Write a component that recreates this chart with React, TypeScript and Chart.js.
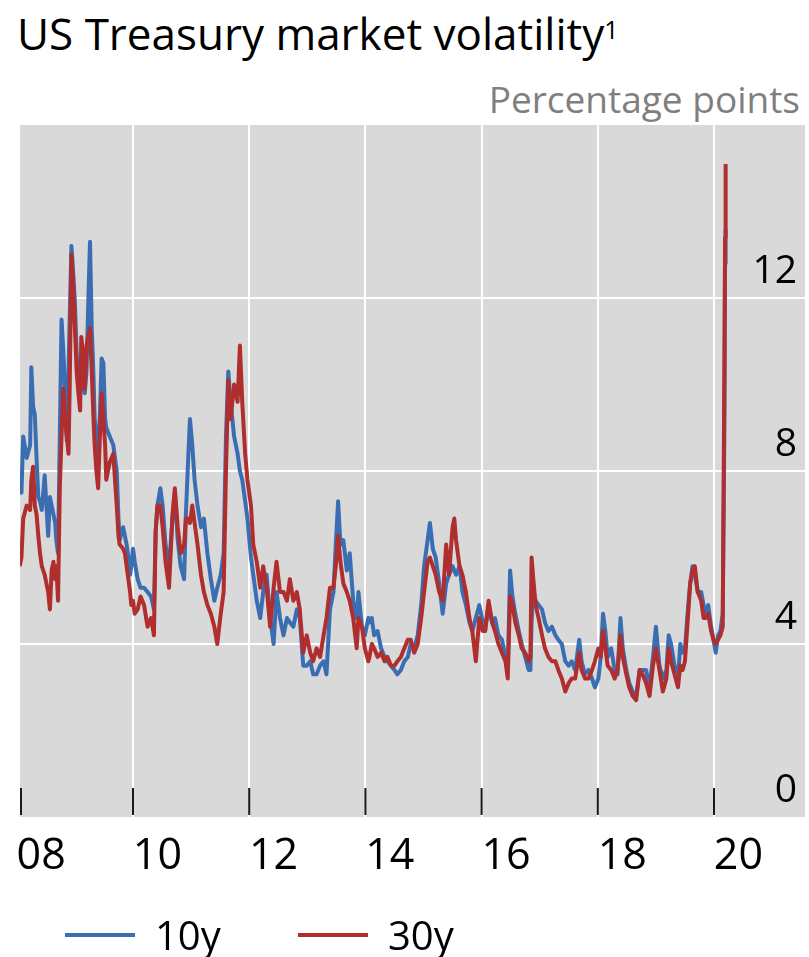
import React, { useEffect, useRef } from 'react';
import { Chart, registerables } from 'chart.js';

Chart.register(...registerables);

// ---- data (decimal years) ----
const dates = [
  2008.05, 2008.08, 2008.11, 2008.17, 2008.23, 2008.25, 2008.28, 2008.31, 2008.34, 2008.37,
  2008.40, 2008.43, 2008.48, 2008.54, 2008.57, 2008.60, 2008.63, 2008.66, 2008.68, 2008.71,
  2008.74, 2008.77, 2008.80, 2008.83, 2008.86, 2008.89, 2008.91, 2008.94, 2008.97, 2009.00,
  2009.03, 2009.06, 2009.09, 2009.11, 2009.14, 2009.17, 2009.20, 2009.23, 2009.26, 2009.29,
  2009.32, 2009.34, 2009.37, 2009.40, 2009.43, 2009.46, 2009.49, 2009.52, 2009.54, 2009.60,
  2009.66, 2009.69, 2009.72, 2009.75, 2009.77, 2009.83, 2009.86, 2009.89, 2009.92, 2009.95,
  2009.97, 2010.00, 2010.03, 2010.08, 2010.13, 2010.19, 2010.25, 2010.31, 2010.36, 2010.39,
  2010.42, 2010.47, 2010.51, 2010.56, 2010.62, 2010.68, 2010.72, 2010.77, 2010.82, 2010.88,
  2010.91, 2010.95, 2010.98, 2011.02, 2011.06, 2011.11, 2011.17, 2011.22, 2011.28, 2011.34,
  2011.40, 2011.45, 2011.51, 2011.56, 2011.60, 2011.64, 2011.68, 2011.74, 2011.80, 2011.84,
  2011.88, 2011.93, 2011.97, 2012.03, 2012.07, 2012.13, 2012.19, 2012.24, 2012.30, 2012.36,
  2012.42, 2012.47, 2012.53, 2012.59, 2012.65, 2012.70, 2012.76, 2012.82, 2012.87, 2012.93,
  2012.99, 2013.05, 2013.10, 2013.16, 2013.22, 2013.28, 2013.33, 2013.39, 2013.45, 2013.49,
  2013.53, 2013.57, 2013.62, 2013.68, 2013.73, 2013.79, 2013.85, 2013.88, 2013.94, 2013.99,
  2014.05, 2014.07, 2014.11, 2014.15, 2014.21, 2014.27, 2014.33, 2014.38, 2014.44, 2014.50,
  2014.55, 2014.61, 2014.67, 2014.73, 2014.78, 2014.84, 2014.90, 2014.96, 2015.01, 2015.07,
  2015.11, 2015.16, 2015.21, 2015.27, 2015.33, 2015.39, 2015.44, 2015.50, 2015.53, 2015.56,
  2015.62, 2015.67, 2015.73, 2015.79, 2015.84, 2015.90, 2015.96, 2016.02, 2016.06, 2016.12,
  2016.18, 2016.23, 2016.29, 2016.35, 2016.41, 2016.45, 2016.49, 2016.53, 2016.58, 2016.64,
  2016.69, 2016.75, 2016.81, 2016.84, 2016.86, 2016.89, 2016.93, 2016.98, 2017.04, 2017.09,
  2017.15, 2017.21, 2017.27, 2017.32, 2017.38, 2017.44, 2017.50, 2017.55, 2017.61, 2017.68,
  2017.72, 2017.78, 2017.84, 2017.90, 2017.95, 2018.01, 2018.05, 2018.09, 2018.13, 2018.17,
  2018.23, 2018.29, 2018.34, 2018.39, 2018.43, 2018.49, 2018.54, 2018.60, 2018.66, 2018.72,
  2018.77, 2018.83, 2018.89, 2018.95, 2019.00, 2019.06, 2019.12, 2019.18, 2019.22, 2019.26,
  2019.32, 2019.38, 2019.42, 2019.46, 2019.50, 2019.55, 2019.59, 2019.63, 2019.67, 2019.72,
  2019.78, 2019.82, 2019.86, 2019.90, 2019.95, 2019.99, 2020.03, 2020.07, 2020.11, 2020.15,
  2020.18, 2020.19, 2020.20,
];

const tenYear = [
  8.0, 7.5, 8.8, 8.3, 8.6, 10.4, 9.5, 9.3, 8.3, 7.4,
  7.3, 7.1, 7.9, 6.5, 7.4, 7.2, 7.0, 6.8, 6.4, 6.1,
  8.8, 11.5, 10.8, 9.9, 8.7, 10.3, 11.5, 13.2, 12.6, 11.9,
  10.7, 10.1, 9.9, 10.7, 9.9, 9.8, 10.3, 11.9, 13.3, 11.3,
  10.2, 9.2, 8.8, 8.4, 9.3, 10.6, 10.5, 9.2, 9.0, 8.8,
  8.6, 8.3, 8.0, 6.9, 6.4, 6.7, 6.5, 6.3, 6.0, 5.6,
  5.8, 6.2, 5.9, 5.5, 5.3, 5.3, 5.2, 5.1, 4.8, 6.6,
  7.2, 7.6, 7.2, 6.3, 5.8, 6.9, 7.5, 6.4, 5.8, 5.5,
  7.0, 8.3, 9.2, 8.6, 7.8, 7.2, 6.7, 6.9, 6.1, 5.5,
  5.0, 5.3, 5.6, 6.1, 8.8, 10.3, 9.6, 8.8, 8.4, 8.0,
  7.8, 7.3, 6.9, 6.0, 5.6, 5.0, 4.6, 5.2, 5.6, 4.6,
  4.0, 5.2, 4.6, 4.2, 4.6, 4.5, 4.4, 4.8, 4.6, 3.5,
  3.5, 3.6, 3.3, 3.3, 3.5, 3.6, 3.3, 4.8, 5.2, 6.3,
  7.3, 6.3, 6.4, 5.7, 6.1, 5.0, 4.6, 5.2, 4.4, 4.2,
  4.6, 4.5, 4.6, 4.2, 4.3, 3.9, 3.7, 3.6, 3.5, 3.4,
  3.3, 3.4, 3.6, 3.7, 4.0, 3.9, 4.2, 4.9, 5.8, 6.4,
  6.8, 6.2, 6.0, 5.4, 4.7, 5.4, 5.6, 5.8, 5.7, 5.6,
  5.8, 5.2, 4.9, 4.5, 4.3, 4.6, 4.9, 4.5, 4.3, 4.9,
  4.5, 4.6, 4.2, 4.1, 3.7, 3.4, 5.7, 5.1, 4.7, 4.3,
  4.0, 3.7, 3.4, 3.4, 4.5, 5.2, 5.0, 4.9, 4.8, 4.5,
  4.3, 4.4, 4.2, 4.1, 4.0, 3.6, 3.5, 3.6, 3.4, 4.1,
  3.6, 3.3, 3.4, 3.2, 3.0, 3.2, 3.7, 4.7, 4.3, 3.7,
  3.9, 3.4, 3.3, 4.6, 3.9, 3.4, 3.1, 2.9, 2.8, 3.4,
  3.4, 3.4, 3.0, 3.7, 4.4, 3.5, 3.2, 3.4, 4.2, 4.0,
  3.5, 3.2, 4.0, 3.8, 3.9, 4.8, 5.4, 5.8, 5.6, 5.2,
  5.2, 4.9, 4.7, 4.9, 4.4, 4.1, 3.8, 4.2, 4.3, 4.7,
  9.2, 12.8, 13.6,
];

const thirtyYear = [
  5.8, 6.0, 6.9, 7.2, 7.1, 7.8, 8.1, 7.2, 7.0, 6.5,
  6.1, 5.8, 5.6, 5.2, 4.8, 5.7, 5.9, 5.5, 5.8, 5.0,
  7.6, 8.8, 9.9, 9.2, 8.8, 8.4, 9.9, 13.0, 12.3, 11.3,
  10.3, 9.8, 9.4, 11.1, 10.7, 9.9, 10.9, 11.1, 11.3, 10.3,
  9.2, 8.6, 8.0, 7.6, 8.8, 9.8, 9.2, 8.6, 7.8, 8.2,
  8.4, 7.8, 7.2, 6.5, 6.3, 6.2, 6.1, 5.8, 5.5, 5.2,
  4.9, 5.0, 4.7, 4.8, 5.1, 4.9, 4.4, 4.6, 4.2, 6.6,
  7.2, 7.2, 6.7, 5.9, 5.3, 7.0, 7.6, 6.7, 6.1, 6.3,
  6.9, 6.9, 6.8, 7.2, 6.8, 6.3, 5.6, 5.2, 4.9, 4.7,
  4.4, 4.0, 4.7, 5.2, 8.0, 10.1, 9.2, 10.0, 9.6, 10.9,
  9.6, 8.4, 7.8, 7.2, 6.3, 5.9, 5.3, 5.8, 5.3, 4.4,
  5.3, 5.9, 5.2, 5.2, 5.0, 5.5, 5.0, 5.2, 4.8, 3.8,
  4.2, 3.8, 3.6, 3.9, 3.7, 4.2, 4.6, 5.3, 5.3, 5.8,
  6.5, 5.9, 5.4, 5.2, 5.0, 4.6, 3.9, 4.6, 4.4, 3.9,
  3.6, 3.7, 4.0, 3.9, 3.7, 3.8, 3.6, 3.7, 3.5, 3.5,
  3.6, 3.7, 3.9, 4.1, 4.1, 3.8, 4.0, 4.6, 5.2, 5.9,
  6.0, 5.8, 5.6, 5.2, 5.0, 6.3, 5.6, 6.7, 6.9, 6.4,
  5.8, 5.6, 5.2, 4.6, 4.3, 3.6, 4.6, 4.3, 4.3, 5.0,
  4.5, 4.3, 4.0, 3.8, 3.6, 3.2, 5.1, 4.9, 4.5, 4.2,
  3.9, 3.8, 3.6, 3.7, 6.0, 5.5, 4.9, 4.6, 4.2, 3.9,
  3.7, 3.6, 3.6, 3.4, 3.2, 2.9, 3.1, 3.2, 3.2, 3.8,
  3.4, 3.2, 3.2, 3.4, 3.6, 3.9, 3.7, 4.3, 3.9, 3.5,
  3.4, 3.2, 3.4, 4.2, 3.7, 3.3, 3.0, 2.8, 2.7, 3.4,
  3.3, 3.1, 2.8, 3.5, 3.9, 3.4, 2.9, 3.2, 3.9, 3.6,
  3.3, 3.0, 3.5, 3.4, 3.6, 4.6, 5.4, 5.7, 5.8, 5.2,
  5.0, 4.6, 4.6, 4.7, 4.3, 4.1, 4.0, 4.1, 4.2, 4.4,
  10.7, 13.4, 15.1,
];

const yTickValues = [0, 4, 8, 12];
const gridYears = [2010, 2012, 2014, 2016, 2018, 2020];
const labelYears = [2008, 2010, 2012, 2014, 2016, 2018, 2020];
const seriesNames = ['10y', '30y'];
const seriesColors = ['#3b6db3', '#b02e2e'];

const X_MIN = 2008.055;
const X_MAX = 2021.566;
const LABEL_SHIFT = 0.42;
const FONT = '"Open Sans", "Noto Sans", sans-serif';

const bgPlugin = {
  id: 'plotBg',
  beforeDraw(chart: any) {
    const { ctx, chartArea } = chart;
    if (!chartArea) return;
    ctx.save();
    ctx.fillStyle = '#d9d9d9';
    ctx.fillRect(chartArea.left, chartArea.top, chartArea.right - chartArea.left, chartArea.bottom - chartArea.top);
    ctx.restore();
  },
};

const innerTickPlugin = {
  id: 'innerTicks',
  afterDraw(chart: any) {
    const { ctx, chartArea } = chart;
    const xs = chart.scales.x;
    ctx.save();
    ctx.strokeStyle = '#1a1a1a';
    ctx.lineWidth = 2;
    const vals = [X_MIN, ...gridYears];
    vals.forEach((v, i) => {
      let px = xs.getPixelForValue(v);
      if (i === 0) px += 1;
      ctx.beginPath();
      ctx.moveTo(px, chartArea.bottom - 29);
      ctx.lineTo(px, chartArea.bottom - 2);
      ctx.stroke();
    });
    ctx.restore();
  },
};

export default function App() {
  const canvasRef = useRef<HTMLCanvasElement | null>(null);

  useEffect(() => {
    if (!canvasRef.current) return;
    const makeData = (vals: number[]) => dates.map((d, i) => ({ x: d, y: vals[i] }));
    const chart = new Chart(canvasRef.current, {
      type: 'line',
      data: {
        datasets: [
          {
            label: seriesNames[0],
            data: makeData(tenYear),
            borderColor: seriesColors[0],
            backgroundColor: seriesColors[0],
            borderWidth: 4,
            pointRadius: 0,
            tension: 0,
            borderJoinStyle: 'round',
            order: 2,
          },
          {
            label: seriesNames[1],
            data: makeData(thirtyYear),
            borderColor: seriesColors[1],
            backgroundColor: seriesColors[1],
            borderWidth: 4,
            pointRadius: 0,
            tension: 0,
            borderJoinStyle: 'round',
            order: 1,
          },
        ],
      },
      options: {
        responsive: false,
        maintainAspectRatio: false,
        animation: false,
        layout: { padding: { left: 20, right: 4, top: 125, bottom: 0 } },
        plugins: {
          legend: { display: false },
          title: { display: false },
          tooltip: { enabled: false },
        },
        scales: {
          x: {
            type: 'linear',
            min: X_MIN,
            max: X_MAX,
            afterBuildTicks: (s: any) => {
              const t = [
                ...gridYears.map((v) => ({ value: v })),
                ...labelYears.map((v) => ({ value: v + LABEL_SHIFT })),
              ];
              t.sort((a, b) => a.value - b.value);
              s.ticks = t;
            },
            afterFit: (s: any) => {
              s.height = 140;
            },
            border: { display: false },
            grid: {
              drawTicks: false,
              lineWidth: 2,
              color: (ctx: any) => (ctx.tick && gridYears.includes(ctx.tick.value) ? '#ffffff' : 'rgba(0,0,0,0)'),
            },
            ticks: {
              autoSkip: false,
              maxRotation: 0,
              padding: 14,
              color: '#000',
              font: { family: FONT, size: 43 },
              callback: (value: any) => {
                const v = Number(value);
                const base = Math.round(v - LABEL_SHIFT);
                if (Math.abs(v - LABEL_SHIFT - base) < 0.001 && labelYears.includes(base)) {
                  return String(base % 100).padStart(2, '0');
                }
                return '';
              },
            },
          },
          y: {
            position: 'right',
            min: 0,
            max: 16,
            afterBuildTicks: (s: any) => {
              s.ticks = yTickValues.map((v) => ({ value: v }));
            },
            afterFit: (s: any) => {
              s.width = 0;
            },
            border: { display: false },
            grid: {
              drawTicks: false,
              lineWidth: 2,
              color: (ctx: any) => (ctx.tick && ctx.tick.value === 0 ? 'rgba(0,0,0,0)' : '#ffffff'),
            },
            ticks: {
              mirror: true,
              padding: -8,
              labelOffset: -26,
              color: '#000',
              font: { family: FONT, size: 39 },
              callback: (value: any) => String(value),
            },
          },
        },
      },
      plugins: [bgPlugin, innerTickPlugin],
    } as any);
    return () => chart.destroy();
  }, []);

  return (
    <div style={{ position: 'absolute', left: 0, top: 0, width: 809, height: 957, fontFamily: FONT, background: '#fff' }}>
      <div
        style={{
          position: 'absolute',
          left: 17,
          top: 11,
          fontSize: 44,
          lineHeight: '44px',
          color: '#000',
          whiteSpace: 'nowrap',
        }}
      >
        US Treasury market volatility<sup style={{ fontSize: 25, verticalAlign: 'top', position: 'relative', top: -4 }}>1</sup>
      </div>
      <div
        style={{
          position: 'absolute',
          right: 9,
          top: 80,
          fontSize: 37,
          lineHeight: '37px',
          color: '#7f7f7f',
          whiteSpace: 'nowrap',
        }}
      >
        Percentage points
      </div>
      <canvas ref={canvasRef} width={809} height={957} style={{ position: 'absolute', left: 0, top: 0, width: 809, height: 957 }} />
      <div style={{ position: 'absolute', left: 0, top: 912, width: 809, height: 45 }}>
        {seriesNames.map((name, i) => (
          <div key={name} style={{ position: 'absolute', left: i === 0 ? 65 : 298, top: 0, height: 45, display: 'flex', alignItems: 'center' }}>
            <div style={{ width: 70, height: 4, background: seriesColors[i] }} />
            <span style={{ marginLeft: 20, fontSize: 40, lineHeight: '45px', color: '#000' }}>{name}</span>
          </div>
        ))}
      </div>
    </div>
  );
}
